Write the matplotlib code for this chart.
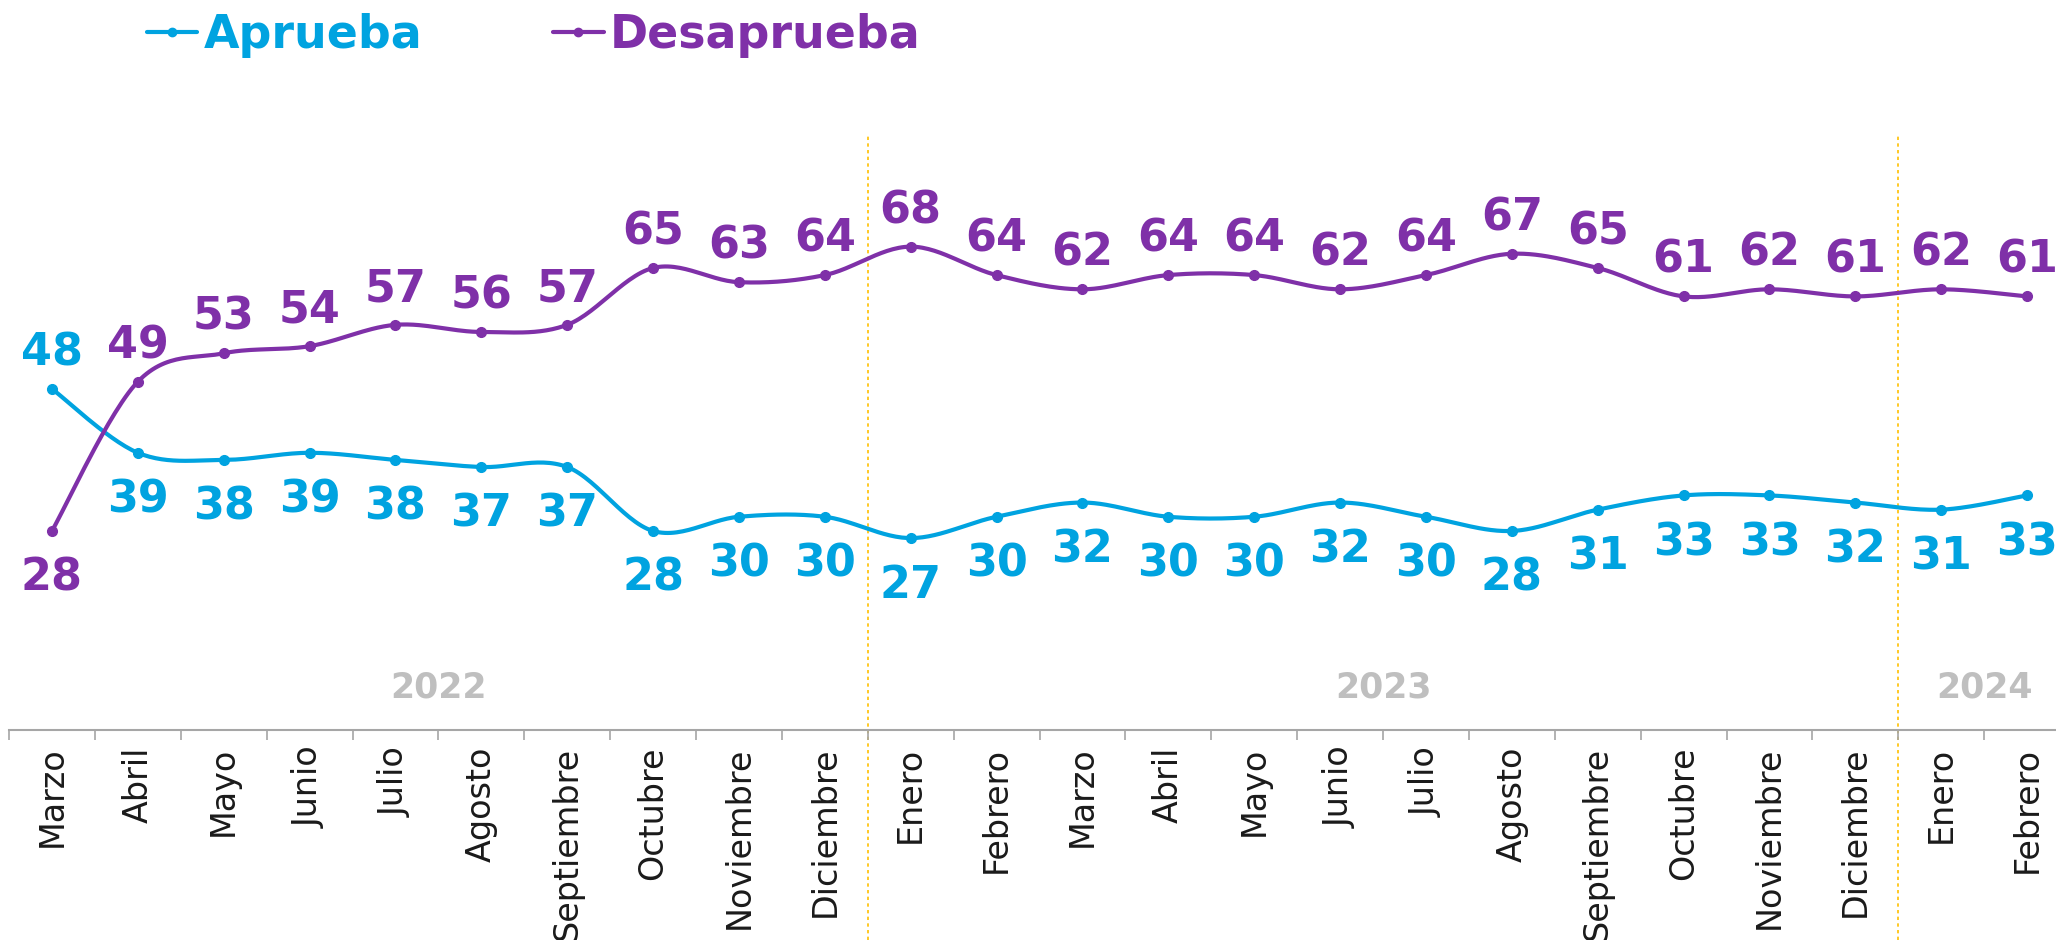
import numpy as np
import matplotlib.pyplot as plt

meses = ["Marzo", "Abril", "Mayo", "Junio", "Julio", "Agosto", "Septiembre",
         "Octubre", "Noviembre", "Diciembre",
         "Enero", "Febrero", "Marzo", "Abril", "Mayo", "Junio", "Julio",
         "Agosto", "Septiembre", "Octubre", "Noviembre", "Diciembre",
         "Enero", "Febrero"]
anio_de_mes = [2022] * 10 + [2023] * 12 + [2024] * 2
aprueba = [48, 39, 38, 39, 38, 37, 37, 28, 30, 30, 27, 30, 32, 30, 30, 32,
           30, 28, 31, 33, 33, 32, 31, 33]
desaprueba = [28, 49, 53, 54, 57, 56, 57, 65, 63, 64, 68, 64, 62, 64, 64, 62,
              64, 67, 65, 61, 62, 61, 62, 61]

AZUL = "#00A3E0"
MORADO = "#7F30A8"
GRIS = "#BFBFBF"


def suavizar(y, n=30):
    # curva tipo catmull-rom (como la linea suavizada de excel)
    y = np.asarray(y, dtype=float)
    x = np.arange(len(y), dtype=float)
    p = np.column_stack([x, y])
    pp = np.vstack([p[0], p, p[-1]])
    t = np.linspace(0, 1, n)[:, None]
    out = []
    for i in range(len(p) - 1):
        p0, p1, p2, p3 = pp[i], pp[i + 1], pp[i + 2], pp[i + 3]
        c1 = p1 + (p2 - p0) / 6
        c2 = p2 - (p3 - p1) / 6
        seg = ((1 - t) ** 3) * p1 + 3 * ((1 - t) ** 2) * t * c1 \
            + 3 * (1 - t) * t ** 2 * c2 + t ** 3 * p2
        out.append(seg if i == 0 else seg[1:])
    out = np.vstack(out)
    return out[:, 0], out[:, 1]


fig = plt.figure(figsize=(20.56, 9.4), dpi=100)
ax = fig.add_axes([9 / 2056, 210 / 940, 2061 / 2056, 730 / 940])
ax.set_xlim(-0.5, len(meses) - 0.5)
ax.set_ylim(0, 102.7)

x = np.arange(len(meses))
handles = []
for serie, color, nombre in [(aprueba, AZUL, "Aprueba"),
                             (desaprueba, MORADO, "Desaprueba")]:
    xs, ys = suavizar(serie)
    ax.plot(xs, ys, color=color, lw=3, solid_capstyle="round", zorder=3)
    ax.plot(x, serie, "o", color=color, ms=7, zorder=4)
    h, = ax.plot([], [], color=color, lw=3, marker="o", ms=6,
                 solid_capstyle="round", label=nombre)
    handles.append(h)

# etiquetas: la serie de arriba encima, la de abajo debajo
for i in range(len(meses)):
    for serie, otra, color in [(aprueba, desaprueba, AZUL),
                               (desaprueba, aprueba, MORADO)]:
        arriba = serie[i] > otra[i]
        ax.annotate(str(serie[i]), (i, serie[i]),
                    xytext=(0, 17 if arriba else -43), textcoords="offset points",
                    ha="center", va="baseline", color=color,
                    fontsize=32, fontweight="bold", zorder=5)

# separadores de anio
for i in range(1, len(meses)):
    if anio_de_mes[i] != anio_de_mes[i - 1]:
        ax.plot([i - 0.5, i - 0.5], [-29.5, 83.5], color="#FFC000", lw=1.2,
                ls=(0, (2, 2)), clip_on=False, zorder=1)

for anio in sorted(set(anio_de_mes)):
    idx = [i for i, a in enumerate(anio_de_mes) if a == anio]
    ax.text((idx[0] + idx[-1]) / 2, 6, str(anio), ha="center", va="center",
            color=GRIS, fontsize=25, fontweight="bold")

for s in ["top", "left", "right"]:
    ax.spines[s].set_visible(False)
ax.spines["bottom"].set_color("#A6A6A6")
ax.spines["bottom"].set_linewidth(1.5)
ax.set_yticks([])
ax.set_xticks(x)
ax.set_xticklabels(meses, rotation=90, fontsize=24, color="#1A1A1A")
ax.tick_params(axis="x", which="major", length=0, pad=12)
ax.set_xticks(np.arange(-0.5, len(meses)), minor=True)
ax.tick_params(axis="x", which="minor", length=7, width=1.2, color="#A6A6A6")

leg = fig.legend(handles=handles, loc="upper left",
                 bbox_to_anchor=(147 / 2056, 1 - 13 / 940), ncol=2,
                 frameon=False, fontsize=33, handlelength=1.1,
                 handletextpad=0.13, columnspacing=2.86, borderpad=0,
                 borderaxespad=0)
for t, h in zip(leg.get_texts(), handles):
    t.set_color(h.get_color())
    t.set_fontweight("bold")

fig.savefig("out.png", dpi=100)
